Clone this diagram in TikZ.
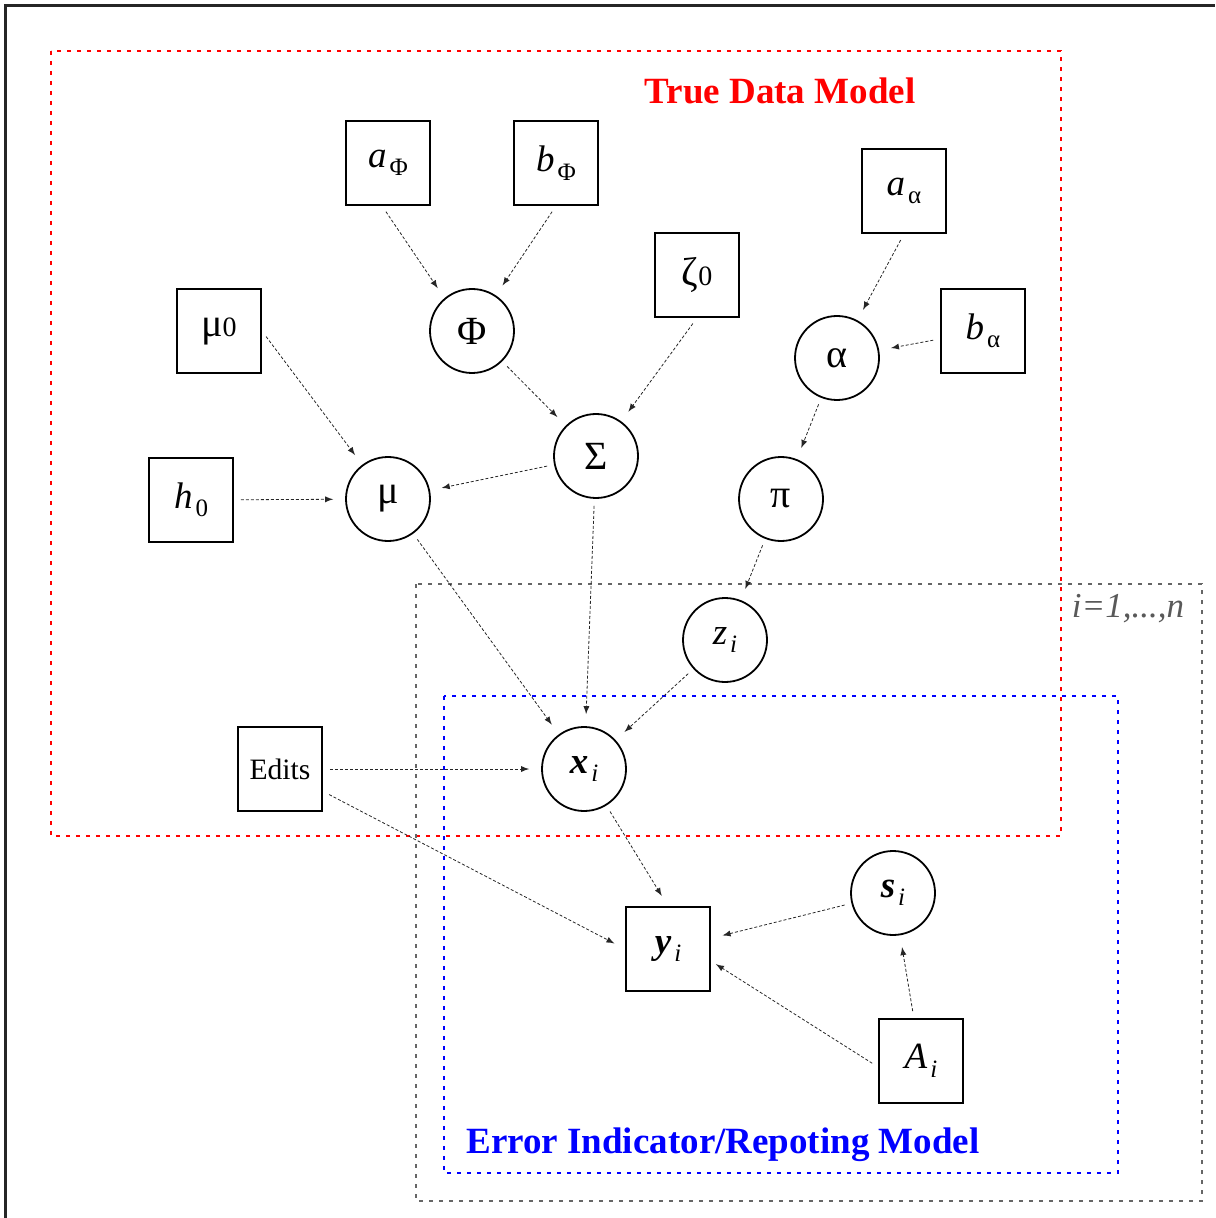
\documentclass[tikz,border=0pt]{standalone}
\usepackage{fontspec}
\setmainfont{Liberation Serif}
\newcommand{\subtxt}[1]{\kern1.5pt\raisebox{-0.5ex}{\fontsize{12.5}{13}\selectfont #1}}
\newcommand{\zerotxt}{{\fontsize{14}{15}\selectfont 0}}

\begin{document}
\begin{tikzpicture}[x=0.5pt,y=-0.5pt,>=latex,
    box/.style={draw,line width=0.9pt,minimum size=42pt,inner sep=0pt,font=\fontsize{18.5}{20}\selectfont},
    var/.style={draw,circle,line width=0.9pt,minimum size=42pt,inner sep=0pt,font=\fontsize{20}{22}\selectfont},
    edge/.style={->,black!85,line width=0.4pt,dash pattern=on 1.5pt off 1pt,shorten <=3.5pt,shorten >=6pt}]
            \useasboundingbox (0,0) rectangle (1215,1218);
            \draw[black!85,line width=1.2pt] (5.5,1218) -- (5.5,5.5) -- (1215,5.5);
            % plates
            \draw[red,line width=1pt,dash pattern=on 2pt off 3pt] (51,51) rectangle (1061,836);
            \draw[black!60,line width=0.8pt,dash pattern=on 2pt off 3pt] (416,584) rectangle (1202,1201);
            \draw[blue,line width=0.9pt,dash pattern=on 2pt off 3pt] (444,696) rectangle (1118,1173);
            \node[text=red,font=\bfseries\fontsize{18.5}{20}\selectfont] (truelab) at (780,91) {True Data Model};
            \node[text=black!65,font=\itshape\fontsize{17.5}{20}\selectfont] (platelab) at (1128,609) {i=1,...,n};
            \node[text=blue,font=\bfseries\fontsize{18.5}{20}\selectfont] (errlab) at (723,1145) {Error Indicator/Repoting Model};
            % hyperparameters
            \node[box] (aphi) at (388,163) {\textit{a}\subtxt{Φ}};
            \node[box] (bphi) at (556,163) {\textit{b}\subtxt{Φ}};
            \node[box,font=\fontsize{20}{22}\selectfont] (zeta) at (697,275) {ζ\zerotxt};
            \node[box] (aalpha) at (904,191) {\textit{a}\subtxt{α}};
            \node[box] (balpha) at (983,331) {\textit{b}\subtxt{α}};
            \node[box,font=\fontsize{20}{22}\selectfont] (muzero) at (219,331) {μ\zerotxt};
            \node[box] (hzero) at (191,500) {\textit{h}\subtxt{0}};
            \node[box,font=\fontsize{14.8}{17}\selectfont] (edits) at (280,769) {Edits};
            \node[box] (y) at (668,949) {\textbf{\textit{y}}\subtxt{\textit{i}}};
            \node[box] (A) at (921,1061) {\textit{A}\subtxt{\textit{i}}};
            % random variables
            \node[var] (phi) at (472,331) {Φ};
            \node[var] (sigma) at (596,456) {Σ};
            \node[var] (alpha) at (837,358) {α};
            \node[var] (mu) at (388,499) {μ};
            \node[var] (pi) at (781,499) {π};
            \node[var,font=\fontsize{18.5}{20}\selectfont] (z) at (725,640) {\textit{z}\subtxt{\textit{i}}};
            \node[var,font=\fontsize{18.5}{20}\selectfont] (x) at (584,769) {\textbf{\textit{x}}\subtxt{\textit{i}}};
            \node[var,font=\fontsize{18.5}{20}\selectfont] (s) at (893,893) {\textbf{\textit{s}}\subtxt{\textit{i}}};
            % dependencies
            \draw[edge] ([xshift=-3pt]aphi.south) -- (phi.130);
            \draw[edge] (bphi.south) -- (phi);
            \draw[edge] (phi) -- (sigma);
            \draw[edge] (zeta.south) -- (sigma);
            \draw[edge] (aalpha.south) -- (alpha);
            \draw[edge] (balpha) -- (alpha);
            \draw[edge] (alpha) -- (pi);
            \draw[edge] (muzero.east) -- (mu);
            \draw[edge] (hzero) -- (mu);
            \draw[edge] (sigma) -- (mu);
            \draw[edge] (sigma) -- (x);
            \draw[edge] (mu) -- (x);
            \draw[edge] (pi) -- (z);
            \draw[edge] (z) -- (x);
            \draw[edge] (edits) -- (x);
            \draw[edge] (edits) -- (y.west);
            \draw[edge] (x) -- (y.north);
            \draw[edge] (s) -- (y);
            \draw[edge] (A) -- (s);
            \draw[edge,shorten >=3pt] ([yshift=-3pt]A.west) -- ([yshift=-6pt]y.east);
        \end{tikzpicture}
\end{document}
